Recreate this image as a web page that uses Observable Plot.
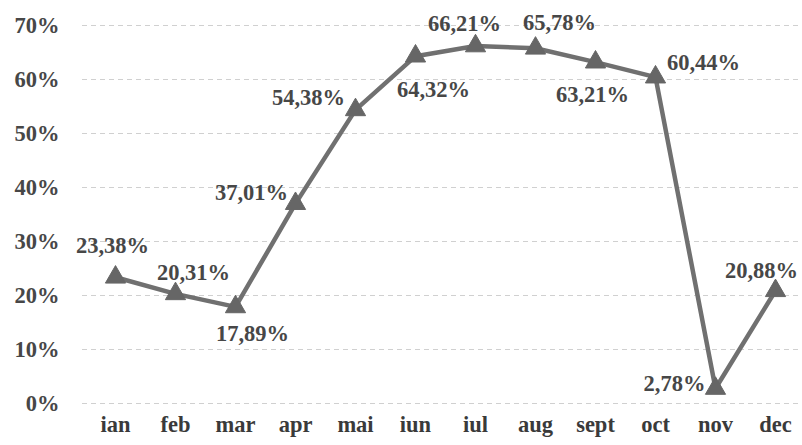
<!DOCTYPE html>
<html>
<head>
<meta charset="utf-8">
<script src="https://cdn.jsdelivr.net/npm/d3@7"></script>
<script src="https://cdn.jsdelivr.net/npm/@observablehq/plot@0.6"></script>
<style>
  html, body { margin: 0; padding: 0; background: #fff; }
  #chart svg { display: block; }
</style>
</head>
<body>
<div id="chart"></div>
<script>
// Data
const months = ["ian", "feb", "mar", "apr", "mai", "iun", "iul", "aug", "sept", "oct", "nov", "dec"];
const values = [23.38, 20.31, 17.89, 37.01, 54.38, 64.32, 66.21, 65.78, 63.21, 60.44, 2.78, 20.88];
const labels = ["23,38%", "20,31%", "17,89%", "37,01%", "54,38%", "64,32%", "66,21%", "65,78%", "63,21%", "60,44%", "2,78%", "20,88%"];
const yTicks = [0, 10, 20, 30, 40, 50, 60, 70];

// Label placement (layout only, in pixels relative to each point)
const labelOffset = [
  [-3, -31], [18, -21], [17, 27], [-44, -11], [-47, -12], [18, 34],
  [-11, -22], [24, -25], [-3, 33], [48, -14], [-41, -5], [-14, -20]
];

const data = months.map((m, i) => ({month: m, value: values[i], label: labels[i], i}));

const font = "'Liberation Serif', 'DejaVu Serif', serif";
const textColor = "#474747";
const fs = 22.5;

const chart = Plot.plot({
  width: 802,
  height: 445,
  marginLeft: 82,
  marginRight: 2,
  marginTop: 25,
  marginBottom: 42,
  style: {fontFamily: font, fontWeight: "bold", fontSize: fs + "px", color: textColor, background: "#fff"},
  x: {type: "point", domain: months, padding: 0, insetLeft: 31, insetRight: 24, label: null},
  y: {domain: [0, 70], label: null},
  marks: [
    Plot.ruleY(yTicks, {stroke: "#c4c4c4", strokeWidth: 1, strokeDasharray: "5,4", strokeOpacity: 0.8}),
    Plot.axisY({ticks: yTicks, tickSize: 0, tickPadding: 23, tickFormat: d => d + "%", fontSize: fs, fontWeight: "bold", fill: textColor}),
    Plot.axisX({tickSize: 0, tickPadding: 13, fontSize: fs, fontWeight: "bold", fill: "#3a3a3a"}),
    Plot.line(data, {x: "month", y: "value", stroke: "#707070", strokeWidth: 4.5}),
    Plot.dot(data, {x: "month", y: "value", symbol: "triangle", r: 7.5, fill: "#666", stroke: "#666", strokeWidth: 1}),
    ...data.map(d => Plot.text([d], {
      x: "month", y: "value", text: "label",
      dx: labelOffset[d.i][0], dy: labelOffset[d.i][1],
      fontSize: fs, fontWeight: "bold", fill: textColor, textAnchor: "middle", lineAnchor: "middle"
    }))
  ]
});

document.getElementById("chart").appendChild(chart);
</script>
</body>
</html>
